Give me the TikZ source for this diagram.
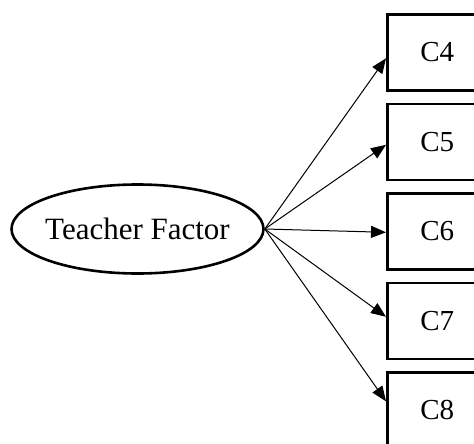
\documentclass[tikz,border=0pt]{standalone}
\usepackage{fontspec}
\setmainfont{Liberation Serif}
\usetikzlibrary{calc}
\usetikzlibrary{shapes.geometric}
\usetikzlibrary{arrows.meta}
\tikzstyle{factor}=[draw, ellipse, line width=2.6pt, inner xsep=-20pt, inner ysep=0pt, minimum width=252pt, minimum height=89pt, font=\fontsize{31}{36}\selectfont]
\tikzstyle{itembox}=[draw, rectangle, line width=2.6pt, inner sep=0pt, minimum width=100pt, minimum height=76pt, anchor=north west, font=\fontsize{29}{32}\selectfont]
\tikzstyle{loading}=[line width=1pt, -{Triangle[length=15pt,width=12pt]}]

\begin{document}
\begin{tikzpicture}[x=1pt,y=-1pt]
%\draw[help lines] (0,0) grid (474,444);
\useasboundingbox (0,0) rectangle (474,444);

\node[factor] (teacher) at (137.5,229) {Teacher Factor};%latent factor

\foreach \i/\top in {4/13,5/102.5,6/192,7/281.5,8/371}
  \node[itembox] (c\i) at (386,\top) {C\i};%items

\foreach \i/\d in {4/6,5/3,6/1,7/-4,8/-9}
  \draw[loading] (teacher.east) -- ($(c\i.west)+(0,\d)$);%loadings
\end{tikzpicture}
\end{document}
